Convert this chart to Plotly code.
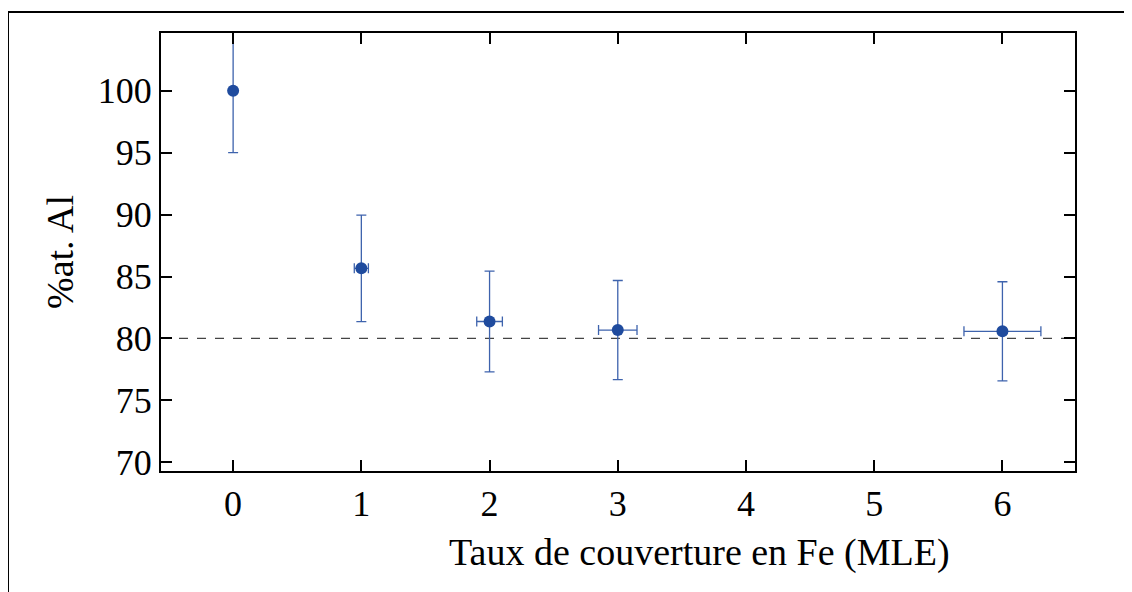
import plotly.graph_objects as go

x_vals = [0, 1, 2, 3, 6]
y_vals = [100.0, 85.66, 81.37, 80.68, 80.58]
y_err = [5.0, 4.3, 4.07, 4.0, 4.0]
x_err = [0.0, 0.055, 0.1, 0.15, 0.3]
x_ticks = [0, 1, 2, 3, 4, 5, 6]
y_ticks = [70, 75, 80, 85, 90, 95, 100]
ref_level = 80.0

FONT = "Liberation Serif, Times New Roman, serif"
mcol = "#1f4b9e"
ecol = "#3e63ad"

fig = go.Figure()
fig.add_trace(go.Scatter(
    x=x_vals, y=y_vals, mode="markers",
    marker=dict(color=mcol, size=12),
    error_y=dict(type="data", array=y_err, visible=True, color=ecol, thickness=1.3, width=5),
    error_x=dict(type="data", array=x_err, visible=True, color=ecol, thickness=1.3, width=5),
    showlegend=False, cliponaxis=True,
))

fig.add_shape(type="line", xref="paper", yref="y", x0=0, x1=1.004, y0=ref_level, y1=ref_level,
              line=dict(color="#444444", width=1.3, dash="dash"), layer="below")

# outer frame (partially cropped)
fig.add_shape(type="line", xref="paper", yref="paper", x0=-0.1674, x1=1.2, y0=1.048, y1=1.048,
              line=dict(color="black", width=2))
fig.add_shape(type="line", xref="paper", yref="paper", x0=-0.1674, x1=-0.1674, y0=1.048, y1=-0.4,
              line=dict(color="black", width=2))

axis_common = dict(showline=True, linecolor="black", linewidth=2, mirror="ticks",
                   ticks="inside", ticklen=11, tickwidth=2, tickcolor="black",
                   showgrid=False, zeroline=False,
                   tickfont=dict(family=FONT, size=36, color="black"))

fig.update_xaxes(range=[-0.5625, 6.566], tickvals=x_ticks, ticktext=[str(t) for t in x_ticks],
                 **axis_common)
fig.update_yaxes(range=[69.3, 104.66], tickvals=y_ticks, ticktext=[str(t) for t in y_ticks],
                 title=dict(text="%at. Al", font=dict(family=FONT, size=38, color="black"), standoff=12),
                 **axis_common)

fig.add_annotation(text="Taux de couverture en Fe (MLE)", xref="paper", yref="paper",
                   x=0.5897, y=-0.1872, xanchor="center", yanchor="middle", showarrow=False,
                   font=dict(family=FONT, size=38, color="black"))

fig.update_layout(width=1132, height=592, margin=dict(l=153, r=65, t=25, b=129),
                  paper_bgcolor="white", plot_bgcolor="white",
                  font=dict(family=FONT, color="black"))

fig.write_html("out.html")
